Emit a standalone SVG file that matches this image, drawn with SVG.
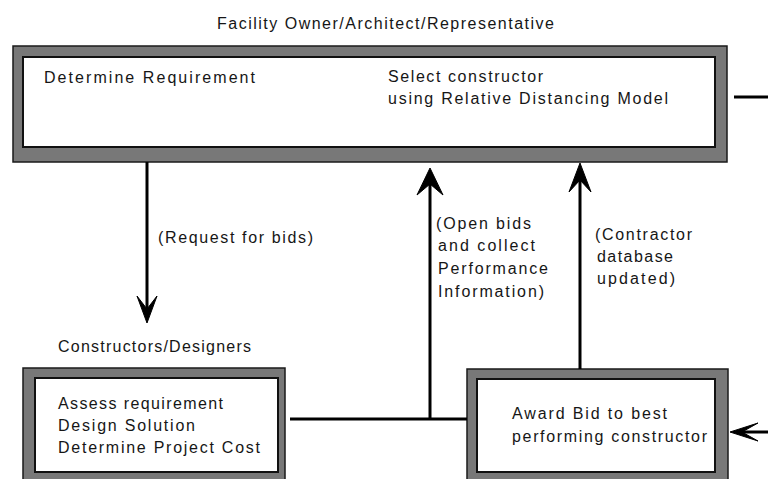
<svg xmlns="http://www.w3.org/2000/svg" width="768" height="479" viewBox="0 0 768 479">
<style>
.outer{fill:#787878;stroke:#1a1a1a;stroke-width:1.5}
.inner{fill:#ffffff;stroke:#111111;stroke-width:2}
.t{font-family:"Liberation Sans",Arial,sans-serif;font-size:16px;fill:#161616}
.ln{stroke:#000000;stroke-width:3;fill:none}
.ah{fill:#000000;stroke:#000000;stroke-width:1;stroke-linejoin:miter}
</style>
<rect width="768" height="479" fill="#ffffff"/>
<g id="owner-label">
<text class="t" x="217" y="29" textLength="337" lengthAdjust="spacing">Facility Owner/Architect/Representative</text>
</g>
<g id="owner-box">
<rect class="outer" x="13" y="46" width="714" height="116"/>
<rect class="inner" x="23" y="57" width="692" height="90"/>
<text class="t" x="44" y="83" textLength="211" lengthAdjust="spacing">Determine Requirement</text>
<text class="t" x="388" y="82" textLength="155" lengthAdjust="spacing">Select constructor</text>
<text class="t" x="388" y="104" textLength="280" lengthAdjust="spacing">using Relative Distancing Model</text>
</g>
<g id="constructors-label">
<text class="t" x="58" y="352" textLength="193" lengthAdjust="spacing">Constructors/Designers</text>
</g>
<g id="constructors-box">
<rect class="outer" x="23" y="368" width="262" height="125"/>
<rect class="inner" x="35" y="378" width="243" height="94"/>
<text class="t" x="58" y="409" textLength="165" lengthAdjust="spacing">Assess requirement</text>
<text class="t" x="58" y="431" textLength="137" lengthAdjust="spacing">Design Solution</text>
<text class="t" x="58" y="453" textLength="202" lengthAdjust="spacing">Determine Project Cost</text>
</g>
<g id="award-box">
<rect class="outer" x="467" y="369" width="261" height="125"/>
<rect class="inner" x="477" y="379" width="238" height="93"/>
<text class="t" x="512" y="419" textLength="155" lengthAdjust="spacing">Award Bid to best</text>
<text class="t" x="512" y="442" textLength="195" lengthAdjust="spacing">performing constructor</text>
</g>
<g id="connectors">
<line class="ln" x1="734" y1="97" x2="768" y2="97"/>
<line class="ln" x1="147" y1="162" x2="147" y2="312"/>
<polygon class="ah" points="147,323 137,296 147,309 157,296"/>
<text class="t" x="158" y="243" textLength="155" lengthAdjust="spacing">(Request for bids)</text>
<line class="ln" x1="290" y1="419" x2="467" y2="419"/>
<line class="ln" x1="430" y1="419" x2="430" y2="182"/>
<polygon class="ah" points="430,168 443,195 430,184 417,195"/>
<text class="t" x="436" y="229" textLength="95" lengthAdjust="spacing">(Open bids</text>
<text class="t" x="438" y="251" textLength="97" lengthAdjust="spacing">and collect</text>
<text class="t" x="438" y="274" textLength="110" lengthAdjust="spacing">Performance</text>
<text class="t" x="438" y="297" textLength="106" lengthAdjust="spacing">Information)</text>
<line class="ln" x1="580" y1="369" x2="580" y2="178"/>
<polygon class="ah" points="580,163 591,192 580,180 569,192"/>
<text class="t" x="595" y="240" textLength="97" lengthAdjust="spacing">(Contractor</text>
<text class="t" x="597" y="262" textLength="76" lengthAdjust="spacing">database</text>
<text class="t" x="597" y="284" textLength="78" lengthAdjust="spacing">updated)</text>
<line class="ln" x1="768" y1="432" x2="742" y2="432"/>
<polygon class="ah" points="730,432 758,423 742,432 758,441"/>
</g>
</svg>
